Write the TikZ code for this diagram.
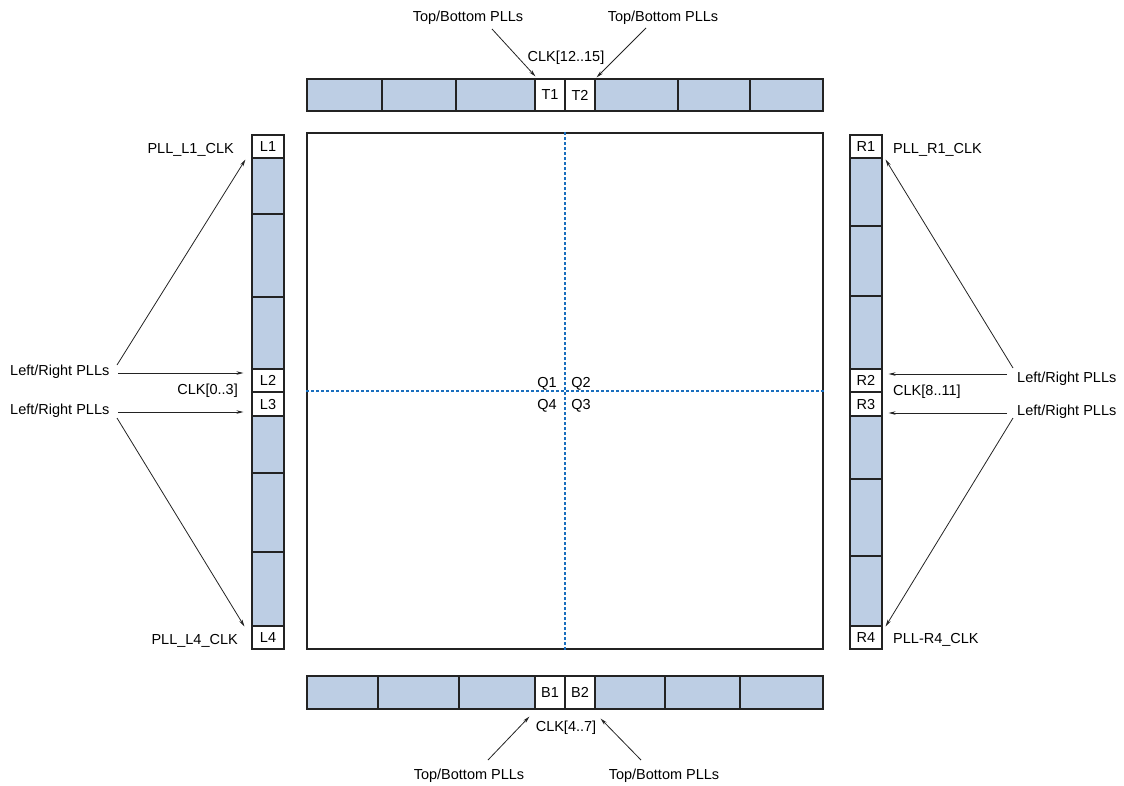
\documentclass[tikz,border=0pt]{standalone}
\usepackage{fontspec}
\setmainfont{Liberation Sans}
\usetikzlibrary{arrows.meta,calc}
\definecolor{cellblue}{RGB}{189,206,228}
\definecolor{qline}{RGB}{25,110,190}
\definecolor{edge}{RGB}{35,35,35}
\newcommand\cellat[7]{\node[#2, minimum width={(#5-#3)*1pt}, minimum height={(#6-#4)*1pt}] (#1) at ({(#3+#5)/2},{(#4+#6)/2}) {#7};}
\begin{document}
\begin{tikzpicture}[x=1pt,y=-1pt,
  font=\fontsize{14.5}{17}\selectfont,
  cellb/.style={draw=edge, line width=1.1pt, fill=cellblue, inner sep=0pt},
  cellw/.style={draw=edge, line width=1.1pt, fill=white, inner sep=0pt},
  lbl/.style={inner sep=0pt, anchor=base},
  lblw/.style={inner sep=0pt, anchor=base west},
  lble/.style={inner sep=0pt, anchor=base east},
  arr/.style={-{Stealth[length=7pt,width=3.5pt]}, line width=0.8pt, draw=edge},
  qdash/.style={draw=qline, line width=1.3pt, dash pattern=on 2.5pt off 2.5pt}]
\useasboundingbox (0,0) rectangle (1124,785);

% core
\node[draw=edge, line width=1.1pt, inner sep=0pt, minimum width=516pt, minimum height=516pt] (core) at (565,391) {};
\draw[qdash] (core.north) -- (core.south);
\draw[qdash] (core.west) -- (core.east);
\node[lbl] (q1) at (547,387) {Q1};
\node[lbl] (q2) at (581,387) {Q2};
\node[lbl] (q4) at (547,409) {Q4};
\node[lbl] (q3) at (581,409) {Q3};

% top bar
\cellat{t0}{cellb}{307}{79}{382}{111}{}
\cellat{t1}{cellb}{382}{79}{456}{111}{}
\cellat{t2}{cellb}{456}{79}{535}{111}{}
\cellat{T1}{cellw}{535}{79}{565}{111}{T1}
\cellat{T2}{cellw}{565}{79}{595}{111}{T2}
\cellat{t5}{cellb}{595}{79}{678}{111}{}
\cellat{t6}{cellb}{678}{79}{750}{111}{}
\cellat{t7}{cellb}{750}{79}{823}{111}{}

% bottom bar
\cellat{b0}{cellb}{307}{676}{378}{709}{}
\cellat{b1}{cellb}{378}{676}{459}{709}{}
\cellat{b2}{cellb}{459}{676}{535}{709}{}
\cellat{B1}{cellw}{535}{676}{565}{709}{B1}
\cellat{B2}{cellw}{565}{676}{595}{709}{B2}
\cellat{b5}{cellb}{595}{676}{665}{709}{}
\cellat{b6}{cellb}{665}{676}{740}{709}{}
\cellat{b7}{cellb}{740}{676}{823}{709}{}

% left bar
\cellat{L1}{cellw}{252}{135}{284}{158}{L1}
\cellat{l1}{cellb}{252}{158}{284}{214}{}
\cellat{l2}{cellb}{252}{214}{284}{297}{}
\cellat{l3}{cellb}{252}{297}{284}{369}{}
\cellat{L2}{cellw}{252}{369}{284}{392}{L2}
\cellat{L3}{cellw}{252}{392}{284}{416}{L3}
\cellat{l4}{cellb}{252}{416}{284}{473}{}
\cellat{l5}{cellb}{252}{473}{284}{552}{}
\cellat{l6}{cellb}{252}{552}{284}{626}{}
\cellat{L4}{cellw}{252}{626}{284}{649}{L4}

% right bar
\cellat{R1}{cellw}{850}{135}{882}{158}{R1}
\cellat{r1}{cellb}{850}{158}{882}{226}{}
\cellat{r2}{cellb}{850}{226}{882}{296}{}
\cellat{r3}{cellb}{850}{296}{882}{369}{}
\cellat{R2}{cellw}{850}{369}{882}{392}{R2}
\cellat{R3}{cellw}{850}{392}{882}{416}{R3}
\cellat{r4}{cellb}{850}{416}{882}{479}{}
\cellat{r5}{cellb}{850}{479}{882}{556}{}
\cellat{r6}{cellb}{850}{556}{882}{626}{}
\cellat{R4}{cellw}{850}{626}{882}{649}{R4}

% labels top / bottom
\node[lbl] (tbTL) at (468,21) {Top/Bottom PLLs};
\node[lbl] (tbTR) at (663,21) {Top/Bottom PLLs};
\node[lbl] (clkT) at (566,61) {CLK[12..15]};
\node[lbl] (clkB) at (566,731) {CLK[4..7]};
\node[lbl] (tbBL) at (469,779) {Top/Bottom PLLs};
\node[lbl] (tbBR) at (664,779) {Top/Bottom PLLs};

% labels left
\node[lble] (pllL1) at (234,153) {PLL\_L1\_CLK};
\node[lblw] (lrL1) at (10,375) {Left/Right PLLs};
\node[lble] (clkL) at (238,394) {CLK[0..3]};
\node[lblw] (lrL2) at (10,414) {Left/Right PLLs};
\node[lble] (pllL4) at (238,644) {PLL\_L4\_CLK};

% labels right
\node[lblw] (pllR1) at (893,153) {PLL\_R1\_CLK};
\node[lblw] (lrR1) at (1017,382) {Left/Right PLLs};
\node[lblw] (clkR) at (893,395) {CLK[8..11]};
\node[lblw] (lrR2) at (1017,415) {Left/Right PLLs};
\node[lblw] (pllR4) at (893,643) {PLL-R4\_CLK};

% arrow start points
\coordinate (sTL) at (492,29);
\coordinate (sTR) at (646,28);
\coordinate (sBL) at (488,760);
\coordinate (sBR) at (641,760);
\coordinate (sL1d) at (117,365);
\coordinate (sL1h) at (118,373);
\coordinate (sL2h) at (118,412);
\coordinate (sL2d) at (117,418);
\coordinate (sR1d) at (1013,368);
\coordinate (sR1h) at (1007,374);
\coordinate (sR2h) at (1007,413);
\coordinate (sR2d) at (1013,418);

% arrows
\draw[arr] (sTL) -- ($(T1.north west)+(1,-2)$);
\draw[arr] (sTR) -- ($(T2.north east)+(1,-1)$);
\draw[arr] (sBL) -- ($(B1.south west)+(-5,7)$);
\draw[arr] (sBR) -- ($(B2.south east)+(5,9)$);
\draw[arr] (sL1d) -- ($(L1.south west)+(-6,1)$);
\draw[arr] (sL1h) -- ($(sL1h -| L2.west)+(-8,0)$);
\draw[arr] (sL2h) -- ($(sL2h -| L3.west)+(-8,0)$);
\draw[arr] (sL2d) -- ($(L4.north west)+(-7,1)$);
\draw[arr] (sR1d) -- ($(R1.south east)+(3,1)$);
\draw[arr] (sR1h) -- ($(sR1h -| R2.east)+(6,0)$);
\draw[arr] (sR2h) -- ($(sR2h -| R3.east)+(6,0)$);
\draw[arr] (sR2d) -- ($(R4.north east)+(3,1)$);
\end{tikzpicture}
\end{document}
